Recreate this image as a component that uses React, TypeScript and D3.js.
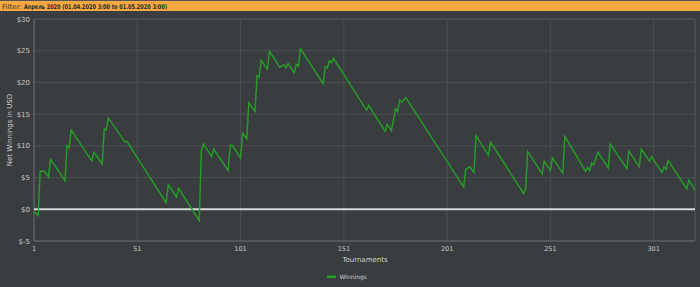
import React from "react";
import * as d3 from "d3";

const tournaments = [1,3,4,6,8,9,16,17,18,19,29,30,34,35,36,37,45,46,65,66,70,71,81,82,83,87,88,95,96,97,101,102,104,105,108,109,110,111,114,115,120,122,123,124,127,128,129,130,141,142,143,144,145,146,162,163,171,172,174,176,177,178,179,181,209,210,212,214,215,221,222,238,239,240,247,248,251,252,257,258,268,269,270,271,272,274,279,280,288,289,294,295,299,300,305,306,307,308,317,318,321];
const winnings = [-0.4,-1.0,6.0,6.0,5.1,7.9,4.5,10.0,9.7,12.5,7.6,9.0,7.1,12.7,12.5,14.4,10.6,10.7,1.0,3.9,1.9,3.3,-1.8,9.2,10.3,8.3,9.5,6.1,10.1,10.1,8.1,12.0,11.1,16.8,15.4,21.1,20.8,23.5,22.1,24.9,22.4,22.8,22.3,23.0,21.5,22.9,22.6,25.3,19.8,22.5,22.3,23.4,23.1,23.8,15.6,16.4,12.3,13.4,12.4,15.8,15.4,17.2,16.9,17.6,3.5,6.3,6.7,5.8,11.6,8.5,10.6,2.5,3.2,9.1,5.6,7.6,6.1,8.1,5.7,11.5,6.0,6.6,6.1,7.3,7.0,9.0,6.5,10.3,6.4,9.2,6.7,9.5,7.6,8.3,5.8,6.7,6.3,7.7,3.2,4.6,3.0];
const xTicks = [1, 51, 101, 151, 201, 251, 301];
const yTicks = [-5, 0, 5, 10, 15, 20, 25, 30];
const yTickLabel = (v: number) => `$${v}`;
const filterLabel = "Filter:";
const filterValue = "Апрель 2020 (01.04.2020 3:00 to 01.05.2020 3:00)";
const xTitle = "Tournaments";
const yTitle = "Net Winnings in USD";
const seriesName = "Winnings";

export default function App() {
  const W = 700, H = 287;
  const left = 34, right = 695, top = 19, bottom = 241;
  const x = d3.scaleLinear().domain([1, 321]).range([left, right]);
  const y = d3.scaleLinear().domain([-5, 30]).range([bottom, top]);
  const data = tournaments.map((t, i) => [t, winnings[i]] as [number, number]);
  const line = d3.line<[number, number]>().x(d => x(d[0])).y(d => y(d[1]));
  const font = "DejaVu Sans, Verdana, sans-serif";
  const green = "#23a023";
  return (
    <svg width={W} height={H} style={{ position: "fixed", left: 0, top: 0, display: "block" }}>
      <rect x={0} y={0} width={W} height={H} fill="#3a3d40" />
      <rect x={0} y={0} width={W} height={11} fill="#f4a842" />
      <line x1={0} x2={W} y1={0.5} y2={0.5} stroke="#555" />
      <text x={2} y={8.5} fontFamily={font} fontSize={6.5} fill="#2a2a2a" textLength={20} lengthAdjust="spacingAndGlyphs">{filterLabel}</text>
      <text x={24} y={8.5} fontFamily={font} fontSize={6.5} fontWeight="bold" fill="#2a2a2a" textLength={143} lengthAdjust="spacingAndGlyphs">{filterValue}</text>
      {yTicks.filter(v => v !== 0 && v !== -5).map(v => (
        <line key={"gy" + v} x1={left} x2={right} y1={y(v)} y2={y(v)} stroke={v === 30 ? "#5a5d61" : "#4b4e52"} strokeWidth={1} />
      ))}
      {xTicks.filter(t => t !== 1).map(t => (
        <line key={"gx" + t} x1={x(t)} x2={x(t)} y1={top} y2={bottom} stroke="#4b4e52" strokeWidth={1} />
      ))}
      <line x1={left} x2={left} y1={top} y2={bottom} stroke="#6e7175" strokeWidth={1} />
      <line x1={left} x2={right} y1={bottom} y2={bottom} stroke="#6e7175" strokeWidth={1} />
      <line x1={right} x2={right} y1={top} y2={bottom} stroke="#55585c" strokeWidth={1} />
      <line x1={left} x2={right} y1={y(0)} y2={y(0)} stroke="#d8d8d8" strokeWidth={2} />
      <path d={line(data) || ""} fill="none" stroke={green} strokeWidth={1.4} strokeLinejoin="miter" />
      {yTicks.map(v => (
        <text key={"ty" + v} x={30} y={y(v) + 2.5} textAnchor="end" fontFamily={font} fontSize={7} fill="#c8c8c8">{yTickLabel(v)}</text>
      ))}
      {xTicks.map(t => (
        <text key={"tx" + t} x={x(t)} y={251} textAnchor="middle" fontFamily={font} fontSize={6.5} fill="#c8c8c8">{t}</text>
      ))}
      <text x={365} y={262} textAnchor="middle" fontFamily={font} fontSize={7} fill="#d0d0d0">{xTitle}</text>
      <text transform="translate(11.5,130) rotate(-90)" textAnchor="middle" fontFamily={font} fontSize={7} fill="#d0d0d0">{yTitle}</text>
      <rect x={327} y={275.5} width={9} height={2.5} fill={green} />
      <text x={339.5} y={279} fontFamily={font} fontSize={6} fill="#d0d0d0">{seriesName}</text>
    </svg>
  );
}
